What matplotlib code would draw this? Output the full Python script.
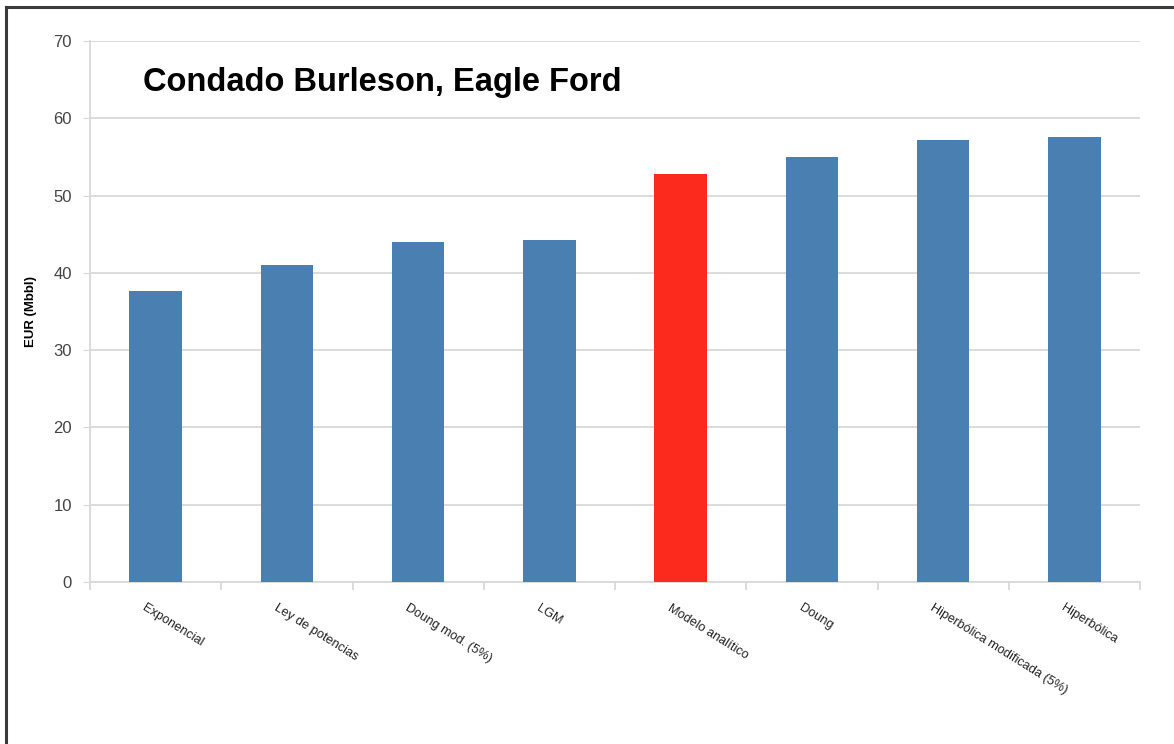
import matplotlib.pyplot as plt
from matplotlib.lines import Line2D
import matplotlib.transforms as mtransforms

plt.rcParams["font.family"] = ["Liberation Sans", "DejaVu Sans"]

methods = [
    "Exponencial",
    "Ley de potencias",
    "Doung mod. (5%)",
    "LGM",
    "Modelo analítico",
    "Doung",
    "Hiperbólica modificada (5%)",
    "Hiperbólica",
]
eur_mbbl = [37.7, 41.0, 44.0, 44.3, 52.8, 55.0, 57.2, 57.6]
highlight = "Modelo analítico"

BLUE = "#4a7fb1"
RED = "#fc2a1c"
GRID = "#d9d9d9"

fig = plt.figure(figsize=(11.74, 7.44), dpi=100)
ax = fig.add_axes([90 / 1174, 1 - 582 / 744, 1050 / 1174, 541 / 744])

x = list(range(len(methods)))
colors = [RED if m == highlight else BLUE for m in methods]
ax.bar(x, eur_mbbl, width=0.4, color=colors, zorder=3)

ax.set_xlim(-0.5, len(methods) - 0.5)
ax.set_ylim(0, 70)
ax.set_yticks(range(0, 71, 10))
ax.yaxis.grid(True, color=GRID, linewidth=1.3, zorder=0)
ax.tick_params(axis="y", length=5, color=GRID, labelsize=12, labelcolor="#444444", pad=8)

# category boundaries carry the x tick marks; labels go on minor ticks
ax.set_xticks([i - 0.5 for i in range(len(methods) + 1)])
ax.set_xticklabels([])
ax.tick_params(axis="x", which="major", length=6, color=GRID, width=1.3)
ax.set_xticks(x, minor=True)
ax.tick_params(axis="x", which="minor", length=0)

for spine in ["top", "right"]:
    ax.spines[spine].set_visible(False)
for spine in ["left", "bottom"]:
    ax.spines[spine].set_color(GRID)
    ax.spines[spine].set_linewidth(1.3)

offset = mtransforms.ScaledTranslation(-12 / 100, -25 / 100, fig.dpi_scale_trans)
for i, name in enumerate(methods):
    ax.text(i, 0, name, rotation=-32, rotation_mode="anchor", ha="left", va="center",
            fontsize=9.2, color="#222222", transform=ax.transData + offset)

ax.set_ylabel("EUR (Mbbl)", fontsize=9.5, fontweight="bold", labelpad=12)

ax.text(143 / 1174, 1 - 82 / 744, "Condado Burleson, Eagle Ford", transform=fig.transFigure,
        fontsize=23.5, fontweight="bold", va="center", ha="left")

# page frame along top and left edges
fig.add_artist(Line2D([6 / 1174, 1], [1 - 7 / 744, 1 - 7 / 744], color="#3a3a3a", linewidth=2.2))
fig.add_artist(Line2D([6 / 1174, 6 / 1174], [0, 1 - 7 / 744], color="#3a3a3a", linewidth=2.2))

fig.savefig("out.png", dpi=100)
